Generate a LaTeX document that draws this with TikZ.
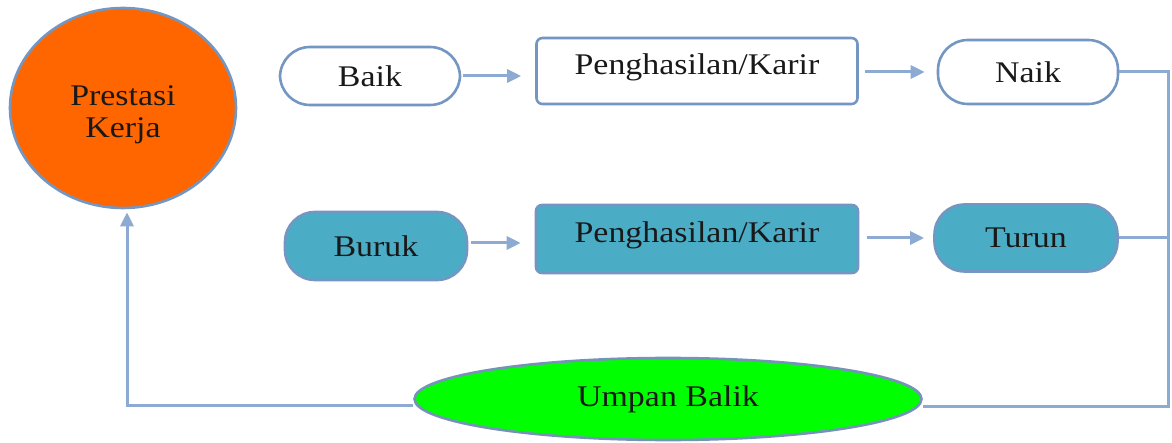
\documentclass[tikz,border=0pt]{standalone}
\usepackage{fontspec}
\setmainfont{Liberation Serif}
\usetikzlibrary{arrows.meta,shapes.geometric}
\definecolor{bord}{HTML}{7396C2}
\definecolor{conn}{HTML}{8DABD2}
\definecolor{orng}{HTML}{FF6600}
\definecolor{teal}{HTML}{4BACC6}
\definecolor{lgreen}{HTML}{00FF00}
\newcommand{\wt}[1]{\scalebox{1.13}[1]{#1}}
\tikzset{
  base/.style={draw=bord, line width=2.6pt, font=\fontsize{30}{33}\selectfont, inner sep=0pt, text=black!90},
  pill/.style={base, rectangle, rounded corners=30pt},
  boxx/.style={base, rectangle, rounded corners=6pt, text depth=14pt},
  conline/.style={draw=conn, line width=3pt},
  arr/.style={conline, -{Triangle[length=14pt,width=13pt]}},
}
\begin{document}
\begin{tikzpicture}[x=1pt,y=-1pt]
\useasboundingbox (0,0) rectangle (1172,443);
\node[base, ellipse, fill=orng, minimum width=226pt, minimum height=200pt] (circ) at (123,108) {};
\node[font=\fontsize{30}{32}\selectfont, align=center, inner sep=0pt, text=black!90] (circtext) at (123,115) {\wt{Prestasi}\\\wt{Kerja}};
\node[pill, fill=white, minimum width=180pt, minimum height=58pt] (baik) at (370,76) {\wt{Baik}};
\node[boxx, fill=white, minimum width=321pt, minimum height=66pt] (pen1) at (697,71) {\wt{Penghasilan/Karir}};
\node[pill, fill=white, minimum width=180pt, minimum height=64pt] (naik) at (1028,72) {\wt{Naik}};
\node[pill, fill=teal, minimum width=182pt, minimum height=68pt] (buruk) at (376,246) {\wt{Buruk}};
\node[boxx, fill=teal, minimum width=322pt, minimum height=68pt] (pen2) at (697,239) {\wt{Penghasilan/Karir}};
\node[pill, fill=teal, minimum width=183pt, minimum height=67pt] (turun) at (1026,238) {\wt{Turun}};
\node[base, ellipse, fill=lgreen, draw=bord!85!gray, minimum width=507pt, minimum height=82pt] (umpan) at (668,399) {\wt{Umpan Balik}};
\coordinate (rt) at (1168,406);
\coordinate (lb) at (127,405);
\draw[arr, shorten <=2pt, shorten >=14pt] (baik.east) -- (pen1.west |- baik.east);
\draw[arr, shorten <=6pt, shorten >=12pt] (pen1.east |- naik.west) -- (naik.west);
\draw[arr, shorten <=3pt, shorten >=14pt] (buruk.east |- 0,243) -- (pen2.west |- 0,243);
\draw[arr, shorten <=8pt, shorten >=9pt] (pen2.east |- turun.west) -- (turun.west);
\draw[conline] (naik.east) -| (rt) -- (umpan.east |- rt);
\draw[conline] (turun.east) -- (turun.east -| rt);
\draw[arr, shorten >=3pt] (umpan.west |- lb) -- (lb) -- (lb |- circ.south);
\end{tikzpicture}
\end{document}
